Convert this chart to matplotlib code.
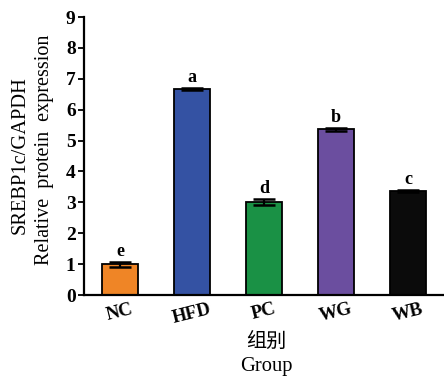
import matplotlib
matplotlib.use("Agg")
import matplotlib.pyplot as plt

groups = ["NC", "HFD", "PC", "WG", "WB"]
values = [1.00, 6.68, 3.02, 5.36, 3.38]
errors = [0.08, 0.03, 0.10, 0.05, 0.03]
letters = ["e", "a", "d", "b", "c"]
colors = ["#EF8526", "#3452A3", "#1A9145", "#6B4E9F", "#0B0B0B"]

serif = "Liberation Serif"
plt.rcParams["font.family"] = [serif, "DejaVu Sans"]

fig = plt.figure(figsize=(4.44, 3.78), dpi=100)
ax = fig.add_axes([84 / 444, 83 / 378, 360 / 444, 278 / 378])

x = range(len(groups))
ax.bar(x, values, width=0.51, color=colors, edgecolor="black", linewidth=1.3, zorder=2)
ax.errorbar(x, values, yerr=errors, fmt="none", ecolor="black",
            elinewidth=1.6, capsize=8, capthick=1.8, zorder=3)
for xi, v, e, lab in zip(x, values, errors, letters):
    ax.text(xi, v + e + 0.06, lab, ha="center", va="bottom",
            fontsize=13, fontweight="bold", fontfamily=serif)

ax.set_xlim(-0.5, 4.5)
ax.set_ylim(0, 9)
ax.set_yticks(range(10))
ax.set_xticks(list(x))
ax.set_xticklabels(groups, rotation=14, fontsize=13.5, fontweight="bold")
for t in ax.get_yticklabels():
    t.set_fontweight("bold")
    t.set_fontsize(14)
ax.tick_params(axis="y", direction="out", length=4, width=1.3, pad=2)
ax.tick_params(axis="x", direction="in", length=3, width=1.3, pad=4)

ax.spines["top"].set_visible(False)
ax.spines["right"].set_visible(False)
ax.spines["left"].set_linewidth(1.6)
ax.spines["bottom"].set_linewidth(1.6)

fig.text(20 / 444, 1 - 155 / 378, "SREBP1c/GAPDH", rotation=90,
         ha="center", va="center", fontsize=14.8, fontfamily=serif)
fig.text(45 / 444, 1 - 150 / 378, "Relative  protein  expression", rotation=90,
         ha="center", va="center", fontsize=14.5, fontfamily=serif)
fig.text(266 / 444, 1 - 341 / 378, "组别", ha="center", va="center",
         fontsize=14.5, fontfamily=["Noto Sans CJK SC", "DejaVu Sans"])
fig.text(266 / 444, 1 - 367 / 378, "Group", ha="center", va="center",
         fontsize=14.8, fontfamily=serif)

fig.savefig("out.png", dpi=100)
